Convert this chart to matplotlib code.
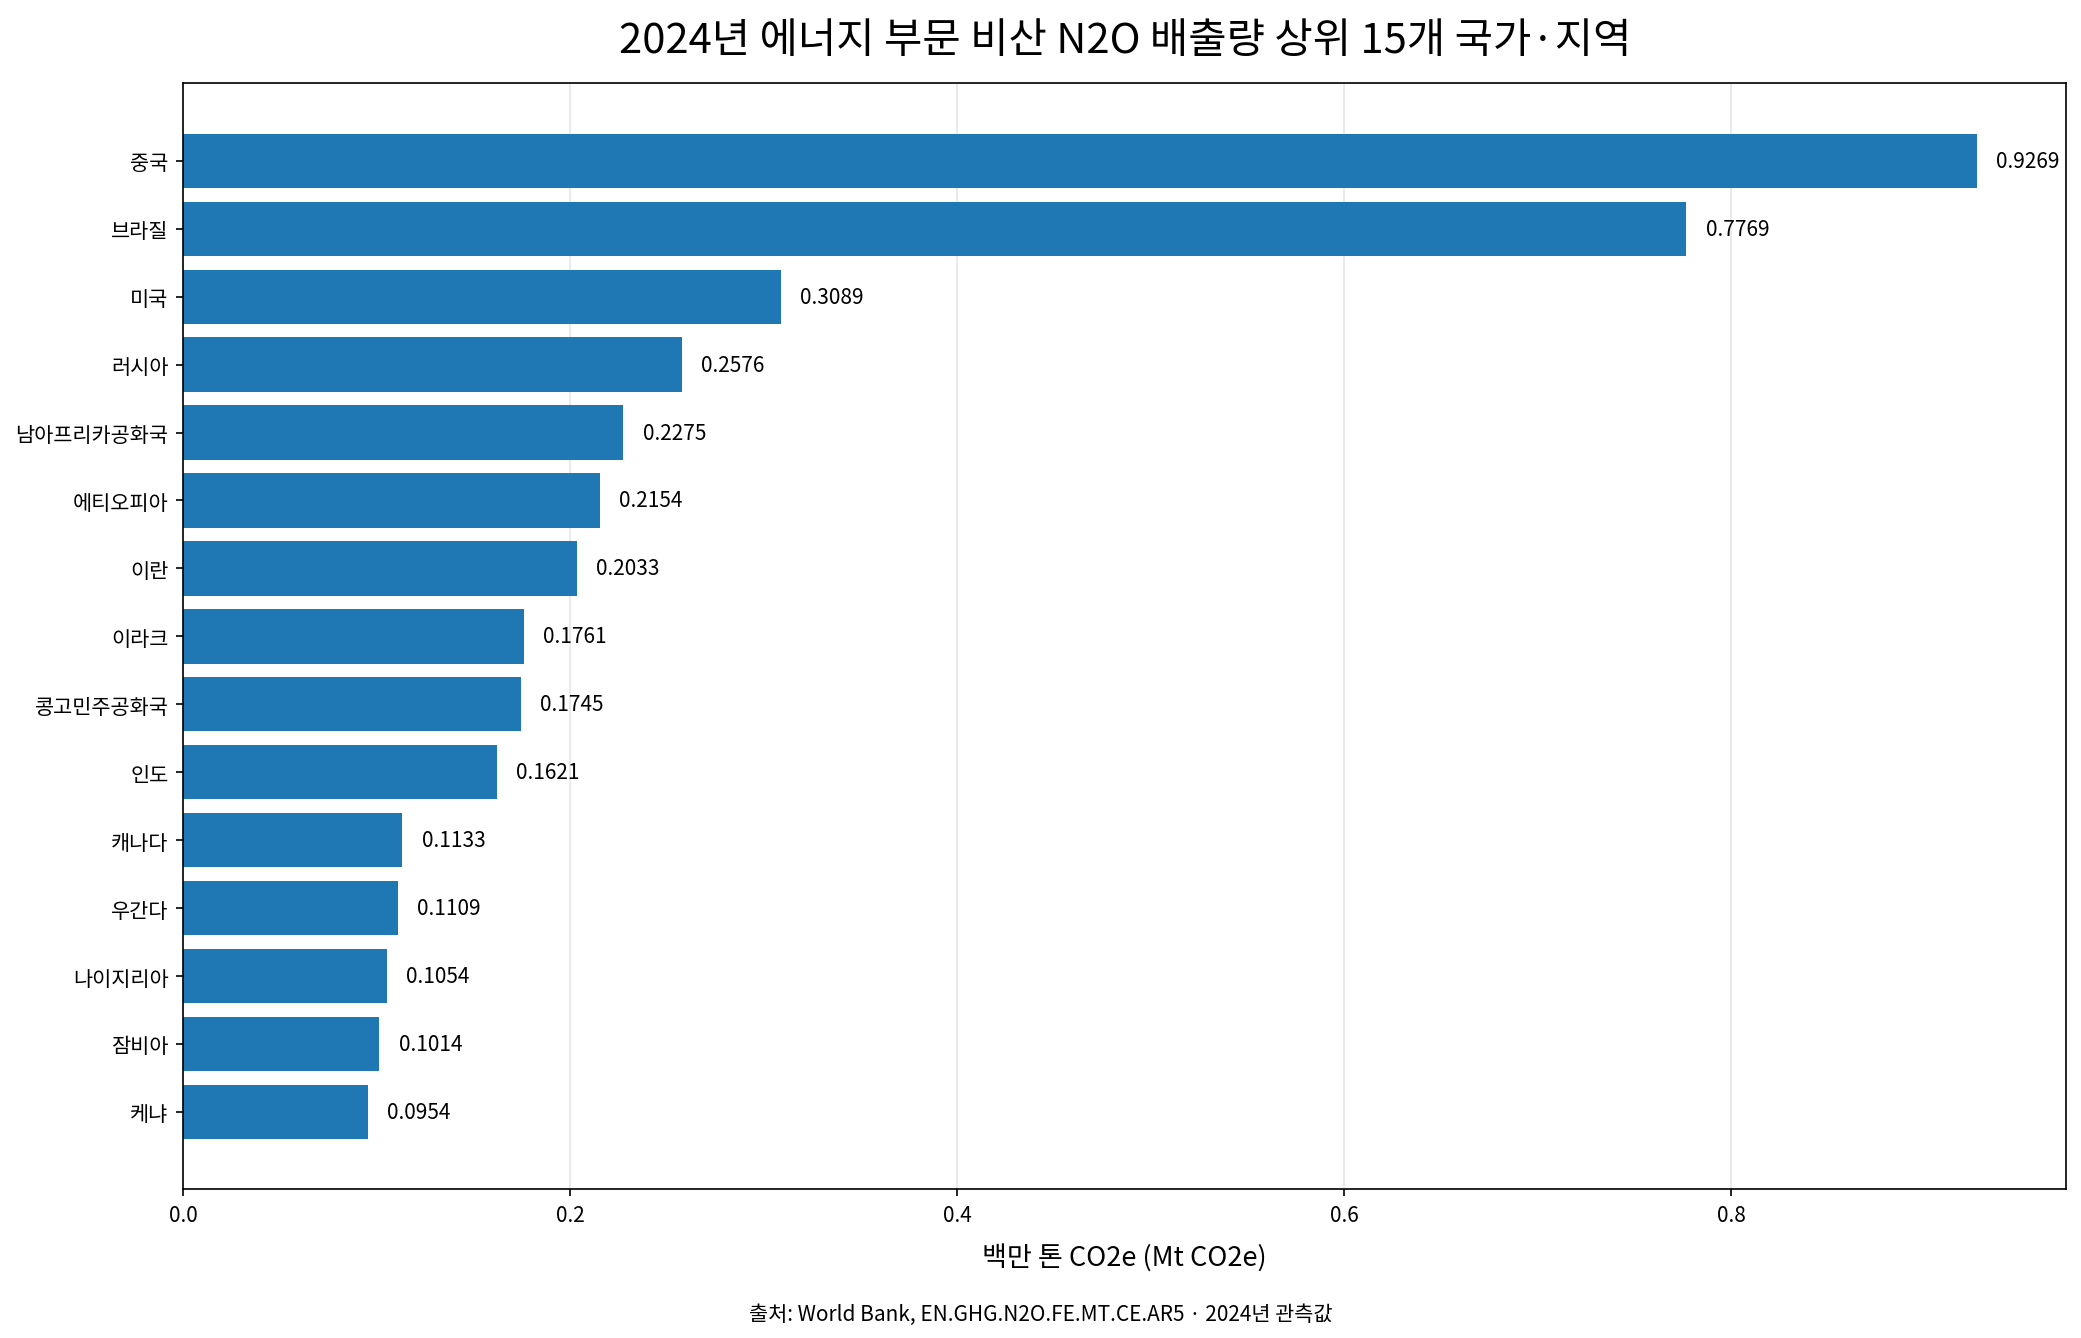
import matplotlib
matplotlib.use("Agg")
import matplotlib.pyplot as plt

plt.rcParams['font.family'] = ['Noto Sans CJK KR', 'DejaVu Sans']

countries = ["중국", "브라질", "미국", "러시아", "남아프리카공화국", "에티오피아", "이란",
             "이라크", "콩고민주공화국", "인도", "캐나다", "우간다", "나이지리아", "잠비아", "케냐"]
values = [0.9269, 0.7769, 0.3089, 0.2576, 0.2275, 0.2154, 0.2033,
          0.1761, 0.1745, 0.1621, 0.1133, 0.1109, 0.1054, 0.1014, 0.0954]

title = "2024년 에너지 부문 비산 N2O 배출량 상위 15개 국가·지역"
xlabel = "백만 톤 CO2e (Mt CO2e)"
source = "출처: World Bank, EN.GHG.N2O.FE.MT.CE.AR5 · 2024년 관측값"


def main():
    fig = plt.figure(figsize=(2081 / 150, 1339 / 150), dpi=150)
    ax = fig.add_axes([0.088, 0.111, 0.905, 0.826])

    ypos = list(range(len(countries)))
    ax.barh(ypos, values, height=0.8, color="#1f77b4", zorder=2)
    ax.set_yticks(ypos)
    ax.set_yticklabels(countries, fontsize=10)
    ax.invert_yaxis()
    ax.set_xlim(0, max(values) * 1.05)
    ax.tick_params(axis='x', labelsize=10)

    for y, v in zip(ypos, values):
        ax.text(v + 0.01, y, f"{v:.4f}", va='center', ha='left', fontsize=10)

    ax.grid(axis='x', color='#e6e6e6', linewidth=0.8, zorder=0)
    ax.set_axisbelow(True)
    ax.set_xlabel(xlabel, fontsize=13, labelpad=8)

    ax.set_title(title, fontsize=20, pad=15)
    fig.text(0.5, 0.018, source, ha='center', va='center', fontsize=10)

    fig.savefig("out.png", dpi=150)


if __name__ == "__main__":
    main()
